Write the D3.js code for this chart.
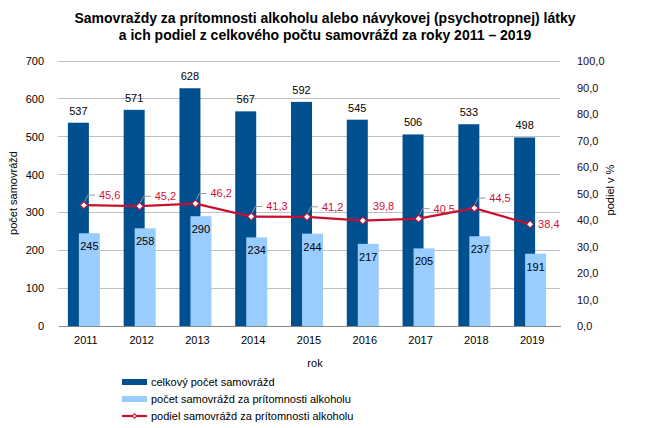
<!DOCTYPE html>
<html><head><meta charset="utf-8">
<script src="https://cdn.jsdelivr.net/npm/d3@7"></script>
<style>body{margin:0;background:#fff}svg{display:block}</style>
</head><body><svg id="c" width="650" height="428"></svg>
<script>
const years = ["2011","2012","2013","2014","2015","2016","2017","2018","2019"];
const total = [537,571,628,567,592,545,506,533,498];
const alcohol = [245,258,290,234,244,217,205,237,191];
const share = [45.6,45.2,46.2,41.3,41.2,39.8,40.5,44.5,38.4];
const leftTicks = [0,100,200,300,400,500,600,700];
const rightTicks = [0,10,20,30,40,50,60,70,80,90,100];
const seriesNames = ["celkový počet samovrážd","počet samovrážd za prítomnosti alkoholu","podiel samovrážd za prítomnosti alkoholu"];
const fmt = v => d3.format(".1f")(v).replace(".", ",");

const svg = d3.select("#c");
const W=650,H=428, L=58, R=560, T=61, B=326;
const fontMain = "Arial, 'Liberation Sans', sans-serif";
const dark="#004f8f", light="#99ccff", red="#c8102e";

const x = d3.scaleBand().domain(years).range([L,R]).paddingInner(0).paddingOuter(0);
const y = d3.scaleLinear().domain([0,700]).range([B,T]);
const y2 = d3.scaleLinear().domain([0,100]).range([B,T]);

// title
const title = svg.append("text").attr("x",325).attr("text-anchor","middle")
  .attr("font-family","'Liberation Sans Narrow', 'Arial Narrow', Arial, sans-serif").attr("font-weight","bold").attr("font-size",14).attr("fill","#000");
title.append("tspan").attr("x",325).attr("y",23).text("Samovraždy za prítomnosti  alkoholu alebo návykovej (psychotropnej)  látky");
title.append("tspan").attr("x",325).attr("y",40).text("a ich podiel z celkového počtu samovrážd  za roky 2011  – 2019");

// gridlines
svg.append("g").selectAll("line").data(leftTicks.filter(d=>d>0)).join("line")
  .attr("x1",L).attr("x2",R).attr("y1",d=>y(d)).attr("y2",d=>y(d))
  .attr("stroke","#c0c0c0").attr("stroke-width",1).attr("shape-rendering","crispEdges");

// left axis
const gl = svg.append("g").attr("transform",`translate(${L},0)`)
  .call(d3.axisLeft(y).tickValues(leftTicks).tickSize(0).tickPadding(14).tickFormat(d3.format("d")));
gl.select(".domain").remove();
gl.selectAll("text").attr("font-family",fontMain).attr("font-size",11).attr("fill","#000");

// right axis
const gr = svg.append("g").attr("transform",`translate(${R},0)`)
  .call(d3.axisRight(y2).tickValues(rightTicks).tickSize(0).tickPadding(17).tickFormat(fmt));
gr.select(".domain").remove();
gr.selectAll("text").attr("font-family",fontMain).attr("font-size",11).attr("fill","#1a0a1a");

// bars
const cx = d => x(d) + x.bandwidth()/2;
svg.append("g").selectAll("rect").data(years).join("rect")
  .attr("x",(d)=>cx(d)-18).attr("width",21)
  .attr("y",(d,i)=>y(total[i])).attr("height",(d,i)=>B-y(total[i])).attr("fill",dark);
svg.append("g").selectAll("rect").data(years).join("rect")
  .attr("x",(d)=>cx(d)-7).attr("width",21)
  .attr("y",(d,i)=>y(alcohol[i])).attr("height",(d,i)=>B-y(alcohol[i])).attr("fill",light);

// bottom axis
const gb = svg.append("g").attr("transform",`translate(0,${B})`)
  .call(d3.axisBottom(x).tickSize(0).tickPadding(10));
gb.select(".domain").attr("stroke","#888").attr("shape-rendering","crispEdges");
gb.selectAll("text").attr("font-family",fontMain).attr("font-size",11).attr("fill","#000");

// bar labels
svg.append("g").selectAll("text").data(years).join("text")
  .attr("x",d=>cx(d)-7.5).attr("y",(d,i)=>y(total[i])-8).attr("text-anchor","middle")
  .attr("font-family",fontMain).attr("font-size",11).attr("fill","#000").text((d,i)=>total[i]);
svg.append("g").selectAll("text").data(years).join("text")
  .attr("x",d=>cx(d)+3.5).attr("y",(d,i)=>y(alcohol[i])+17).attr("text-anchor","middle")
  .attr("font-family",fontMain).attr("font-size",11).attr("fill","#000").text((d,i)=>alcohol[i]);

// line
const px = d => cx(d) - 2;
svg.append("path").datum(years)
  .attr("d", d3.line().x(d=>px(d)).y((d,i)=>y2(share[i])))
  .attr("fill","none").attr("stroke",red).attr("stroke-width",2.2);
const sym = d3.symbol().type(d3.symbolSquare).size(26);
svg.append("g").selectAll("path").data(years).join("path")
  .attr("transform",(d,i)=>`translate(${px(d)},${y2(share[i])}) rotate(45)`)
  .attr("d",sym).attr("fill","#fff").attr("stroke",red).attr("stroke-width",1);

// line labels
const lbl = svg.append("g");
years.forEach((d,i)=>{
  const mx = px(d), my = y2(share[i]);
  let tx, ty, leader = true;
  if (i===5) { tx = mx+10; ty = my-14; leader=false; }
  else if (i===8) { tx = mx+8; ty = my; leader=false; }
  else { tx = mx+15; ty = my-10; }
  if (leader) {
    lbl.append("path").attr("d",`M${mx+1},${my-4}L${mx+4},${my-10}L${mx+11},${my-10}`)
      .attr("fill","none").attr("stroke","#999").attr("stroke-width",1);
  }
  lbl.append("text").attr("x",tx).attr("y",ty).attr("dy","0.35em")
    .attr("font-family",fontMain).attr("font-size",11).attr("fill","#d0103c").text(fmt(share[i]));
});

// axis titles
svg.append("text").attr("transform","translate(17,193) rotate(-90)").attr("text-anchor","middle")
  .attr("font-family",fontMain).attr("font-size",11).attr("fill","#000").text("počet samovrážd");
svg.append("text").attr("transform","translate(614,190) rotate(-90)").attr("text-anchor","middle")
  .attr("font-family",fontMain).attr("font-size",11).attr("fill","#000").text("podiel v %");
svg.append("text").attr("x",315).attr("y",367).attr("text-anchor","middle")
  .attr("font-family",fontMain).attr("font-size",11).attr("fill","#000").text("rok");

// legend
const lg = svg.append("g");
const rows = [382,399,416];
lg.append("rect").attr("x",122).attr("y",rows[0]-3).attr("width",25).attr("height",6).attr("fill",dark);
lg.append("rect").attr("x",122).attr("y",rows[1]-3).attr("width",25).attr("height",6).attr("fill",light);
lg.append("line").attr("x1",122).attr("x2",147).attr("y1",rows[2]).attr("y2",rows[2]).attr("stroke",red).attr("stroke-width",2.2);
lg.append("path").attr("transform",`translate(134.5,${rows[2]}) rotate(45)`).attr("d",d3.symbol().type(d3.symbolSquare).size(10)).attr("fill","#fff").attr("stroke",red).attr("stroke-width",1);
lg.selectAll("text").data(seriesNames).join("text")
  .attr("x",151).attr("y",(d,i)=>rows[i]).attr("dy","0.35em")
  .attr("font-family",fontMain).attr("font-size",11).attr("fill","#000").text(d=>d);
</script></body></html>
